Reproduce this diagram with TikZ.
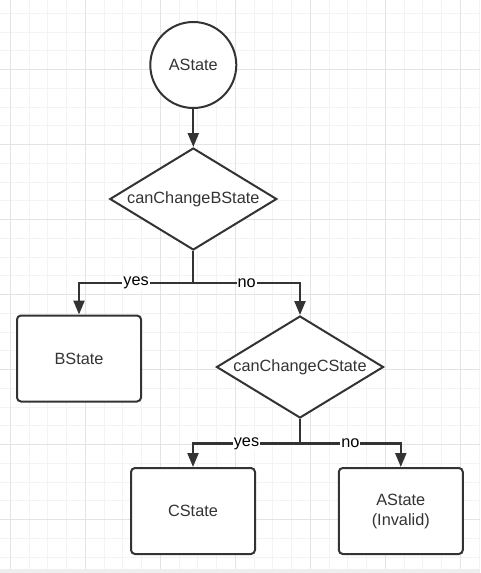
\documentclass[tikz,border=0pt]{standalone}
\usepackage{fontspec}
\setmainfont{Liberation Sans}
\usetikzlibrary{shapes.geometric,arrows.meta}
\definecolor{ink}{HTML}{333333}
\definecolor{gridminor}{HTML}{F3F3F3}
\definecolor{gridmajor}{HTML}{E3E3E3}
\definecolor{band}{HTML}{EEEEEE}
\begin{document}
\begin{tikzpicture}[x=1pt,y=-1pt,
  every node/.style={font=\fontsize{16.3}{20}\selectfont, text=ink},
  base/.style={draw=ink, line width=2pt, fill=white},
  startnode/.style={base, circle, minimum size=86pt, inner sep=0pt},
  decision/.style={base, diamond, aspect=1.625, minimum width=167pt, minimum height=102pt, inner sep=0pt},
  statebox/.style={base, rounded corners=4pt, minimum width=124pt, minimum height=86pt, inner sep=0pt},
  conn/.style={draw=ink, line width=2.2pt},
  arr/.style={conn, -{Triangle[width=11pt,length=14pt]}},
  lab/.style={fill=white, inner sep=1pt, text=black}]
\useasboundingbox (0,0) rectangle (480,573);
\fill[white] (0,0) rectangle (480,573);
% grid
\foreach \i in {0,...,25}
  \draw[gridminor, line width=1pt] ({10.3+18.75*\i},0) -- ({10.3+18.75*\i},573);
\foreach \j in {0,...,29}
  \draw[gridminor, line width=1pt] (0,{13.25+18.75*\j}) -- (480,{13.25+18.75*\j});
\foreach \i in {0,...,6}
  \draw[gridmajor, line width=1pt] ({10.3+75*\i},0) -- ({10.3+75*\i},573);
\foreach \j in {0,...,6}
  \draw[gridmajor, line width=1pt] (0,{69.5+75*\j}) -- (480,{69.5+75*\j});
\fill[band] (0,569) rectangle (480,573);
% nodes
\node[startnode] (a) at (193.3,65) {AState};
\node[decision] (d1) at (193.3,199) {canChangeBState};
\coordinate (j1) at (193.3,283);
\node[statebox] (b) at (79,358.5) {BState};
\node[decision] (d2) at (300,367) {canChangeCState};
\coordinate (j2) at (300,443.5);
\node[statebox] (c) at (193,511) {CState};
\node[statebox, align=center] (inv) at (400.8,511) {AState\\(Invalid)};
% connectors
\draw[arr] (a) -- (d1);
\draw[conn] (d1.south) -- (j1);
\draw[arr] (j1) -| node[pos=0.25, lab] {yes} (b.north);
\draw[arr] (j1) -| node[pos=0.25, lab] {no} (d2.north);
\draw[conn] (d2.south) -- (j2);
\draw[arr] (j2) -| node[pos=0.25, lab] {yes} (c.north);
\draw[arr] (j2) -| node[pos=0.25, lab] {no} (inv.north);
\end{tikzpicture}
\end{document}
